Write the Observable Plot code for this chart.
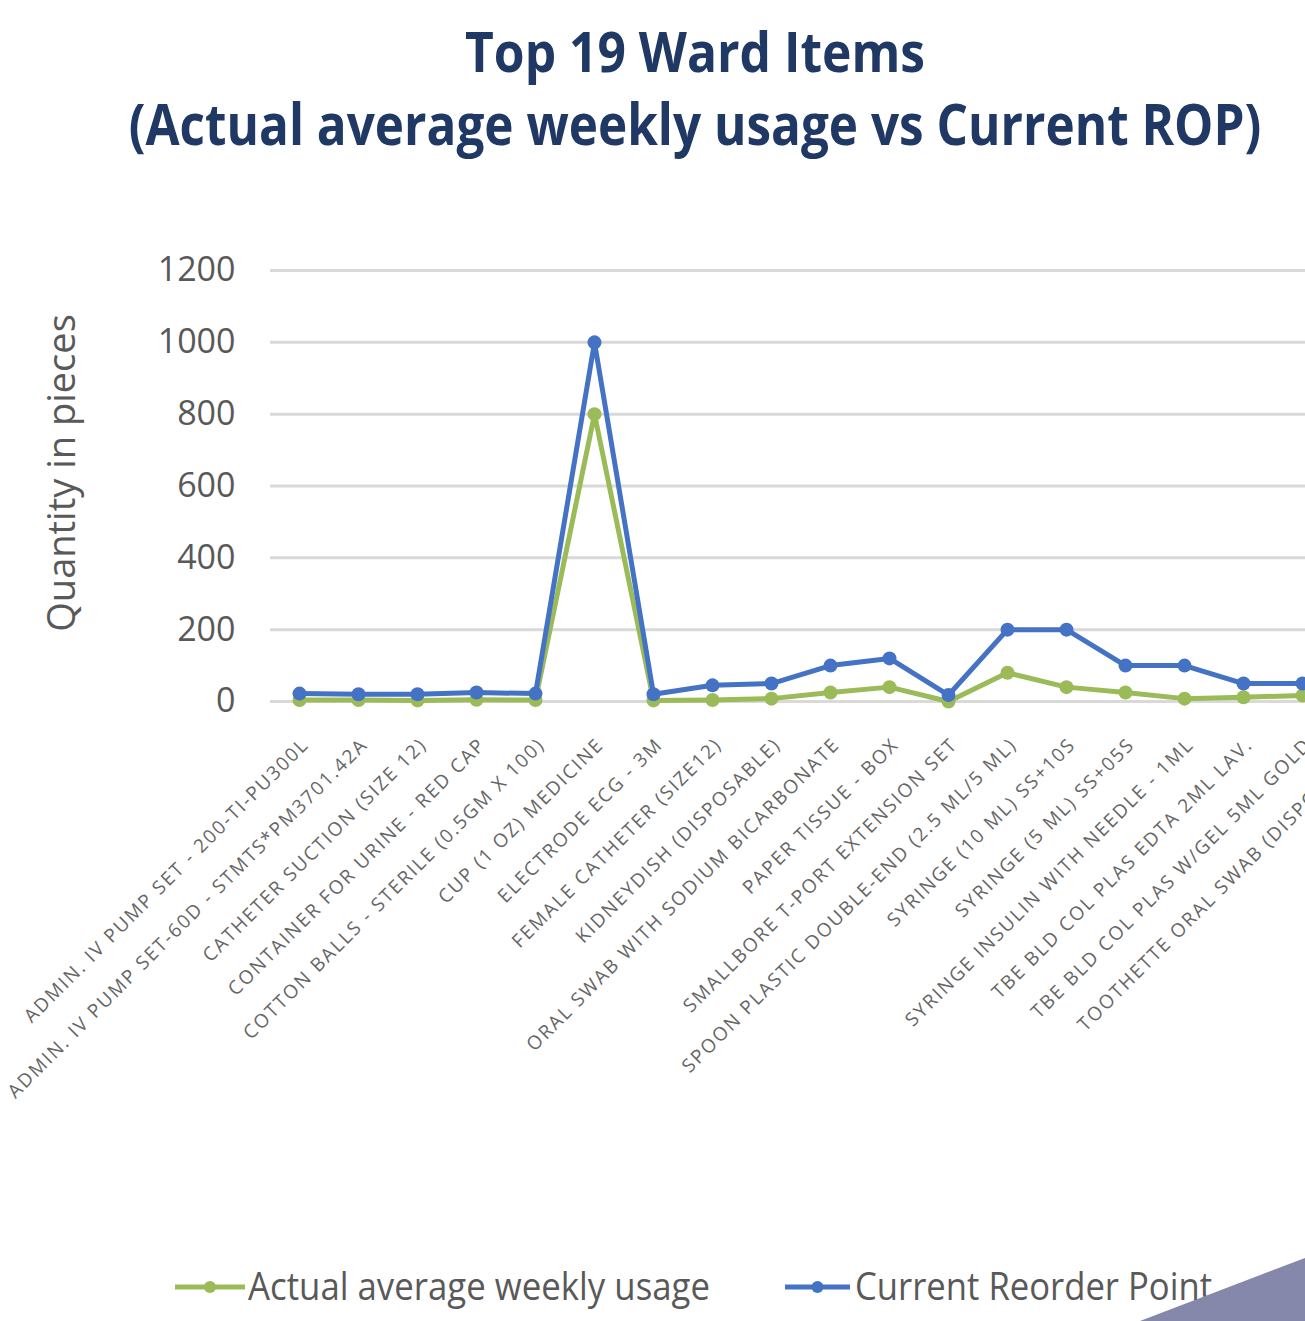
<!DOCTYPE html>
<html>
<head>
<meta charset="utf-8">
<script src="https://cdn.jsdelivr.net/npm/d3@7"></script>
<script src="https://cdn.jsdelivr.net/npm/@observablehq/plot@0.6"></script>
<style>
  html, body { margin: 0; padding: 0; background: #ffffff; overflow: hidden; width: 1305px; height: 1321px; }
  #page { position: relative; width: 1390px; height: 1321px; font-family: "Open Sans", sans-serif; }
  #header { position: absolute; left: 0; top: 0; }
  #chart { position: absolute; left: 0; top: 170px; }
  #legend { position: absolute; left: 0; top: 1250px; }
  #corner { position: absolute; left: 0; top: 0; width: 1305px; height: 1321px; pointer-events: none;
            background: linear-gradient(160deg, #9a9cbd 0%, #8486aa 100%);
            clip-path: polygon(1140px 1321px, 1305px 1258px, 1305px 1321px); }
</style>
</head>
<body>
<div id="page">
  <div id="header"></div>
  <div id="chart"></div>
  <div id="legend"></div>
</div>
<div id="corner"></div>
<script>
// ---- data ----
const titleLines = ["Top 19 Ward Items", "(Actual average weekly usage vs Current ROP)"];
const yAxisTitle = "Quantity in pieces";
const items = [
  "ADMIN. IV PUMP SET - 200-TI-PU300L",
  "ADMIN. IV PUMP SET-60D - STMTS*PM3701.42A",
  "CATHETER SUCTION (SIZE 12)",
  "CONTAINER FOR URINE - RED CAP",
  "COTTON BALLS - STERILE (0.5GM X 100)",
  "CUP (1 OZ) MEDICINE",
  "ELECTRODE ECG - 3M",
  "FEMALE CATHETER (SIZE12)",
  "KIDNEYDISH (DISPOSABLE)",
  "ORAL SWAB WITH SODIUM BICARBONATE",
  "PAPER TISSUE - BOX",
  "SMALLBORE T-PORT EXTENSION SET",
  "SPOON PLASTIC DOUBLE-END (2.5 ML/5 ML)",
  "SYRINGE (10 ML) SS+10S",
  "SYRINGE (5 ML) SS+05S",
  "SYRINGE INSULIN WITH NEEDLE - 1ML",
  "TBE BLD COL PLAS EDTA 2ML LAV.",
  "TBE BLD COL PLAS W/GEL 5ML GOLD",
  "TOOTHETTE ORAL SWAB (DISPOSABLE)"
];
const actualUsage = [4, 4, 3, 5, 4, 800, 3, 4, 8, 25, 40, 0, 80, 40, 25, 8, 12, 17, 18];
const reorderPoint = [22, 20, 20, 25, 22, 1000, 20, 45, 50, 100, 120, 18, 200, 200, 100, 100, 50, 50, 50];
const seriesNames = ["Actual average weekly usage", "Current Reorder Point"];
const seriesColors = ["#9bbb59", "#4472c4"];
const yTicks = [0, 200, 400, 600, 800, 1000, 1200];

// ---- table ----
const seriesValues = [actualUsage, reorderPoint];
const rows = seriesNames.flatMap((s, k) => items.map((item, i) => ({item, series: s, value: seriesValues[k][i]})));

const gray = "#595959";

// ---- header (fit each line to the width it has in the reference, then stretch vertically) ----
const header = d3.select("#header").append("svg").attr("width", 1390).attr("height", 170);
const titleSpec = [{y: 72, len: 460, cap: 40}, {y: 145, len: 1133, cap: 41}];
titleLines.forEach((t, i) => {
  const S = titleSpec[i];
  const txt = header.append("text")
    .attr("x", 0).attr("y", 0)
    .attr("text-anchor", "middle")
    .attr("font-family", "'Open Sans', sans-serif")
    .attr("font-weight", 700)
    .attr("font-size", 50)
    .attr("fill", "#1f3864")
    .text(t);
  const natural = txt.node().getComputedTextLength();
  const fs = 50 * S.len / natural;
  txt.attr("font-size", fs);
  const sy = S.cap / (0.714 * fs);
  txt.attr("transform", `translate(695,${S.y}) scale(1,${sy})`);
});

// ---- chart ----
const chart = Plot.plot({
  width: 1390,
  height: 1080,
  marginLeft: 270,
  marginRight: 0,
  marginTop: 100,
  marginBottom: 549,
  style: {fontFamily: "'Open Sans', sans-serif", color: gray, background: "transparent", overflow: "visible"},
  x: {type: "point", domain: items, range: [298, 1362], padding: 0, axis: null},
  y: {domain: [0, 1200], axis: null},
  color: {domain: seriesNames, range: seriesColors},
  marks: [
    Plot.gridY(yTicks, {stroke: "#d9d9d9", strokeOpacity: 1, strokeWidth: 3}),
    Plot.axisY(yTicks, {tickSize: 0, tickPadding: 35, fontSize: 34, label: null, fill: gray, tickFormat: d => String(d)}),
    Plot.text([yAxisTitle], {frameAnchor: "left", textAnchor: "middle", dx: -208, dy: -13, rotate: -90, fontSize: 38, fill: gray}),
    Plot.text(items, {x: d => d, y: () => 0, text: d => d, rotate: -45, textAnchor: "end", dx: 6, dy: 40, fontSize: 19, fill: "#666666"}),
    ...seriesNames.flatMap(s => [
      Plot.line(rows.filter(r => r.series === s), {x: "item", y: "value", stroke: "series", strokeWidth: 5}),
      Plot.dot(rows.filter(r => r.series === s), {x: "item", y: "value", fill: "series", r: 7})
    ])
  ]
});
const itemSet = new Set(items);
d3.select(chart).selectAll("text").filter(function() { return itemSet.has(this.textContent); })
  .attr("letter-spacing", 1.9);
document.getElementById("chart").appendChild(chart);

// ---- legend ----
const legend = d3.select("#legend").append("svg").attr("width", 1390).attr("height", 71);
const legendSpec = [{x0: 175, x1: 245, tx: 248, len: 462}, {x0: 785, x1: 850, tx: 855, len: 357}];
seriesNames.forEach((s, i) => {
  const L = legendSpec[i];
  legend.append("line").attr("x1", L.x0).attr("x2", L.x1).attr("y1", 37).attr("y2", 37)
    .attr("stroke", seriesColors[i]).attr("stroke-width", 5);
  legend.append("circle").attr("cx", (L.x0 + L.x1) / 2).attr("cy", 37).attr("r", 6).attr("fill", seriesColors[i]);
  legend.append("text").attr("x", L.tx).attr("y", 50)
    .attr("font-family", "'Open Sans', sans-serif").attr("font-size", 38).attr("fill", gray)
    .attr("textLength", L.len).attr("lengthAdjust", "spacingAndGlyphs")
    .text(s);
});
</script>
</body>
</html>
